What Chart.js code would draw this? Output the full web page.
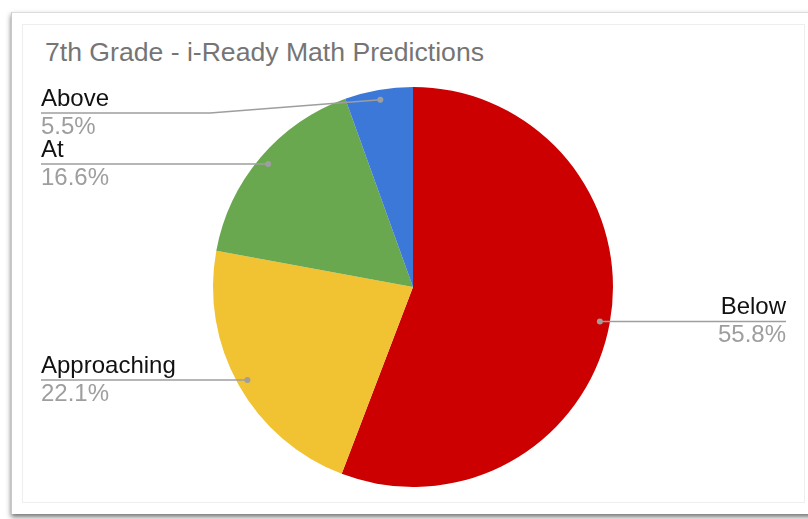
<!DOCTYPE html>
<html lang="en">
<head>
    <meta charset="UTF-8">
    <title>7th Grade - i-Ready Math Predictions</title>
    <script src="https://cdn.jsdelivr.net/npm/chart.js@4.4.1/dist/chart.umd.min.js"></script>
    <style>
        body {
            margin: 0;
            width: 808px;
            height: 519px;
            overflow: hidden;
            background: #fff;
            font-family: 'Liberation Sans', Arial, sans-serif;
            position: relative;
        }
        .card {
            position: absolute;
            left: 11px;
            top: 12px;
            width: 820px;
            height: 501px;
            background: #fff;
            border-left: 1px solid #c8c8c8;
            border-top: 1px solid #ddd;
            box-shadow: 0 3px 5px rgba(0,0,0,0.55);
        }
        .inner {
            position: absolute;
            left: 22px;
            top: 24px;
            width: 781px;
            height: 477px;
            border: 1px solid #eee;
        }
        .title {
            position: absolute;
            left: 45px;
            top: 37px;
            font-size: 26.6px;
            color: #757575;
            white-space: nowrap;
        }
        canvas {
            position: absolute;
            left: 0;
            top: 0;
        }
    </style>
</head>
<body>
    <div class="card"></div>
    <div class="inner"></div>
    <div class="title">7th Grade - i-Ready Math Predictions</div>
    <canvas id="pie" width="808" height="519"></canvas>

    <script>
        // chart data
        const categories = ['Below', 'Approaching', 'At', 'Above'];
        const values = [55.8, 22.1, 16.6, 5.5];
        const colors = ['#cc0000', '#f1c232', '#6aa84f', '#3c78d8'];

        // draws the label + leader line for each slice, Google Sheets style
        const sliceLabels = {
            id: 'sliceLabels',
            afterDraw(chart) {
                const ctx = chart.ctx;
                const arcs = chart.getDatasetMeta(0).data;
                const total = values.reduce((a, b) => a + b, 0);
                const left = [], right = [];
                arcs.forEach((arc, i) => {
                    const mid = (arc.startAngle + arc.endAngle) / 2;
                    const r = arc.outerRadius * 0.95;
                    const p = {
                        i: i,
                        x: arc.x + Math.cos(mid) * r,
                        y: arc.y + Math.sin(mid) * r
                    };
                    p.lineY = p.y;
                    (p.x > arc.x ? right : left).push(p);
                });

                // keep left labels below the title and apart from each other
                left.sort((a, b) => a.y - b.y);
                let minY = 113;
                left.forEach(p => {
                    p.lineY = Math.max(p.y, minY);
                    minY = p.lineY + 51;
                });

                ctx.save();
                ctx.font = '24px "Liberation Sans", Arial, sans-serif';
                ctx.lineWidth = 1.5;

                const drawOne = (p, side) => {
                    const edgeX = side === 'left' ? 41 : 786;
                    ctx.beginPath();
                    ctx.moveTo(edgeX, p.lineY);
                    if (Math.abs(p.lineY - p.y) > 0.5) {
                        ctx.lineTo(210, p.lineY);
                    }
                    ctx.lineTo(p.x, p.y);
                    ctx.strokeStyle = '#9e9e9e';
                    ctx.stroke();

                    ctx.beginPath();
                    ctx.arc(p.x, p.y, 3, 0, Math.PI * 2);
                    ctx.fillStyle = '#9e9e9e';
                    ctx.fill();

                    ctx.textAlign = side === 'left' ? 'left' : 'right';
                    ctx.textBaseline = 'alphabetic';
                    ctx.fillStyle = '#111';
                    ctx.fillText(categories[p.i], edgeX, p.lineY - 7);
                    ctx.fillStyle = '#9e9e9e';
                    const pct = (values[p.i] / total * 100).toFixed(1) + '%';
                    ctx.fillText(pct, edgeX, p.lineY + 21);
                };
                left.forEach(p => drawOne(p, 'left'));
                right.forEach(p => drawOne(p, 'right'));
                ctx.restore();
            }
        };

        new Chart(document.getElementById('pie'), {
            type: 'pie',
            data: {
                labels: categories,
                datasets: [{
                    data: values,
                    backgroundColor: colors,
                    borderWidth: 0
                }]
            },
            options: {
                responsive: false,
                animation: false,
                layout: {
                    padding: { left: 213, right: 195, top: 87, bottom: 32 }
                },
                plugins: {
                    legend: { display: false },
                    tooltip: { enabled: false }
                }
            },
            plugins: [sliceLabels]
        });
    </script>
</body>
</html>
